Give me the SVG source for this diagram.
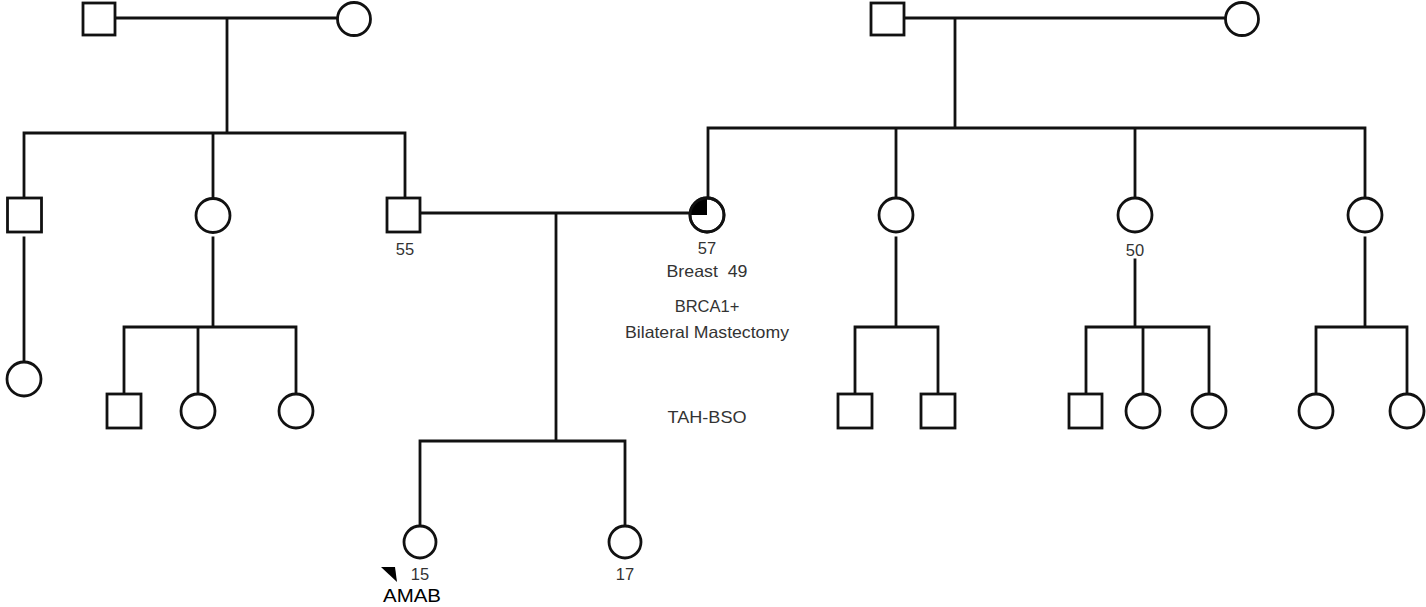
<svg xmlns="http://www.w3.org/2000/svg" width="1426" height="607" viewBox="0 0 1426 607">
<style>
.n{fill:#fff;stroke:#111;stroke-width:2.8}
.l{fill:none;stroke:#111;stroke-width:2.8;stroke-linecap:square}
.t{font-family:"Liberation Sans",Arial,sans-serif;font-size:16.5px;fill:#333;text-anchor:middle}
.a{font-family:"Liberation Sans",Arial,sans-serif;font-size:19px;fill:#000}
</style>
<rect width="1426" height="607" fill="#fff"/>
<g id="connectors">
<path class="l" d="M115,18H338M227,18V133M24,133H405M24,133V198M213,133V198M405,133V198"/>
<path class="l" d="M24,238V362M213,238V327M124,327H296M124,327V394M198,327V394M296,327V394"/>
<path class="l" d="M905,18H1225M955,18V128M708,128H1365M708,128V198M896,128V198M1135,128V198M1365,128V198"/>
<path class="l" d="M420,213H690M556,213V441M420,441H625M420,441V526M625,441V526"/>
<path class="l" d="M896,238V327M855,327H938M855,327V394M938,327V394"/>
<path class="l" d="M1135,260V327M1086,327H1209M1086,327V394M1143,327V394M1209,327V394"/>
<path class="l" d="M1365,238V327M1316,327H1407M1316,327V394M1407,327V394"/>
</g>
<g id="pgf"><rect class="n" x="83" y="3" width="32" height="32"/></g>
<g id="pgm"><circle class="n" cx="354" cy="19" r="16.5"/></g>
<g id="mgf"><rect class="n" x="871" y="3" width="33" height="32"/></g>
<g id="mgm"><circle class="n" cx="1242" cy="19" r="16.5"/></g>
<g id="uncle1"><rect class="n" x="7.5" y="198" width="34" height="34"/></g>
<g id="aunt1"><circle class="n" cx="213" cy="215.5" r="17"/></g>
<g id="father"><rect class="n" x="387" y="198" width="33" height="34"/><text class="t" x="405" y="255">55</text></g>
<g id="mother"><circle class="n" cx="707" cy="215" r="17"/><path d="M707,215H690A17,17 0 0 1 707,198Z" fill="#000"/><circle cx="707" cy="215" r="17" fill="none" stroke="#111" stroke-width="2.8"/>
<text class="t" x="707" y="254">57</text>
<text class="t" x="707" y="277" style="white-space:pre" textLength="81" lengthAdjust="spacingAndGlyphs">Breast  49</text>
<text class="t" x="707" y="312">BRCA1+</text>
<text class="t" x="707" y="338" textLength="164" lengthAdjust="spacingAndGlyphs">Bilateral Mastectomy</text>
<text class="t" x="707" y="423" textLength="79" lengthAdjust="spacingAndGlyphs">TAH-BSO</text></g>
<g id="aunt2"><circle class="n" cx="896" cy="215" r="17"/></g>
<g id="aunt3"><circle class="n" cx="1135" cy="215" r="17"/><text class="t" x="1135" y="256">50</text></g>
<g id="aunt4"><circle class="n" cx="1365" cy="215" r="17"/></g>
<g id="cousin1"><circle class="n" cx="24" cy="379" r="17"/></g>
<g id="cousin2"><rect class="n" x="107" y="394" width="34" height="34"/></g>
<g id="cousin3"><circle class="n" cx="198" cy="411" r="17"/></g>
<g id="cousin4"><circle class="n" cx="296" cy="411" r="17"/></g>
<g id="cousin5"><rect class="n" x="838" y="394" width="34" height="34"/></g>
<g id="cousin6"><rect class="n" x="921" y="394" width="34" height="34"/></g>
<g id="cousin7"><rect class="n" x="1069" y="394" width="33" height="34"/></g>
<g id="cousin8"><circle class="n" cx="1143" cy="411" r="17"/></g>
<g id="cousin9"><circle class="n" cx="1209" cy="411" r="17"/></g>
<g id="cousin10"><circle class="n" cx="1316" cy="411" r="17"/></g>
<g id="cousin11"><circle class="n" cx="1407" cy="411" r="17"/></g>
<g id="proband"><circle class="n" cx="420" cy="542" r="16"/><polygon points="381,567 395,567 397,582" fill="#000"/><text class="t" x="420" y="580">15</text><text class="a" x="383" y="602" textLength="58" lengthAdjust="spacingAndGlyphs">AMAB</text></g>
<g id="sister"><circle class="n" cx="625" cy="542" r="16"/><text class="t" x="625" y="580">17</text></g>
</svg>
